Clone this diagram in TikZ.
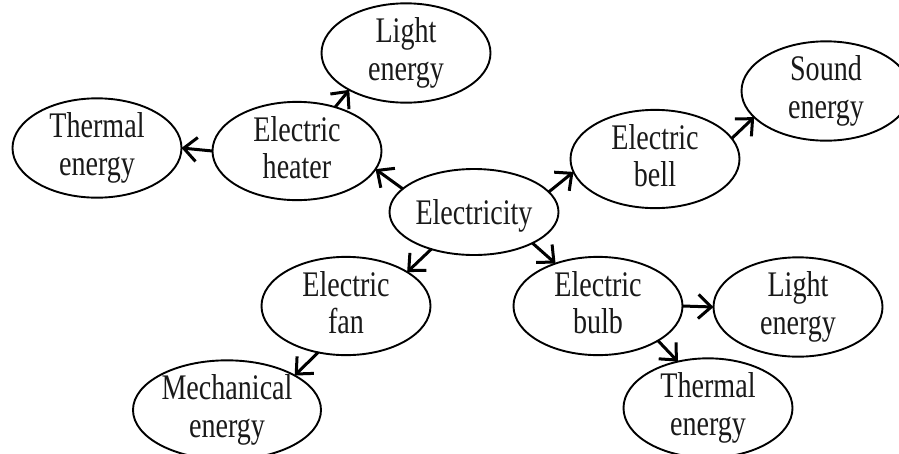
\documentclass[tikz,border=0pt]{standalone}
\usepackage{fontspec}
\setmainfont{Liberation Serif}[FakeStretch=0.78]
\usetikzlibrary{arrows.meta,shapes.geometric}
\begin{document}
\begin{tikzpicture}[x=1pt,y=-1pt,
  bub/.style={ellipse, draw, line width=1.9pt, minimum width=169pt, minimum height=86pt,
    inner sep=0pt, outer sep=0pt, align=center, text=black!90,
    font=\fontsize{36}{37.5}\selectfont,
    execute at begin node={\rule{0pt}{32pt}},
    execute at end node={\rule[-7pt]{0pt}{7pt}}},
  arr/.style={line width=3pt, -{Straight Barb[length=13pt,width=24pt]}}]
\useasboundingbox (0,0) rectangle (899,453);
\clip (0,0) rectangle (899,453);
\node[bub] (thermL) at (97,148) {Thermal\\energy};
\node[bub] (heater) at (297,151) {Electric\\heater};
\node[bub] (lightT) at (406,53) {Light\\energy};
\node[bub] (elec) at (474,212) {Electricity};
\node[bub] (bell) at (655,159) {Electric\\bell};
\node[bub] (sound) at (826,91) {Sound\\energy};
\node[bub] (fan) at (346,306) {Electric\\fan};
\node[bub, minimum width=188pt, minimum height=92pt] (mech) at (227,410) {Mechanical\\energy};
\node[bub] (bulb) at (598,306) {Electric\\bulb};
\node[bub] (lightR) at (798,307) {Light\\energy};
\node[bub] (thermB) at (708,408) {Thermal\\energy};
\draw[arr] (elec.162.7) -- (heater.-13.4);
\draw[arr] (heater.180) -- (thermL.0);
\draw[arr] (heater.49) -- (lightT.213.4);
\draw[arr] (elec.15.8) -- (bell.189);
\draw[arr] (bell.15.3) -- (sound.200.7);
\draw[arr] (elec.221.7) -- (fan.29);
\draw[arr] (fan.239.4) -- (mech.27);
\draw[arr] (elec.-28.4) -- (bulb.135);
\draw[arr] (bulb.0) -- (lightR.180);
\draw[arr] (bulb.-30.8) -- (thermB.123);
\end{tikzpicture}
\end{document}
